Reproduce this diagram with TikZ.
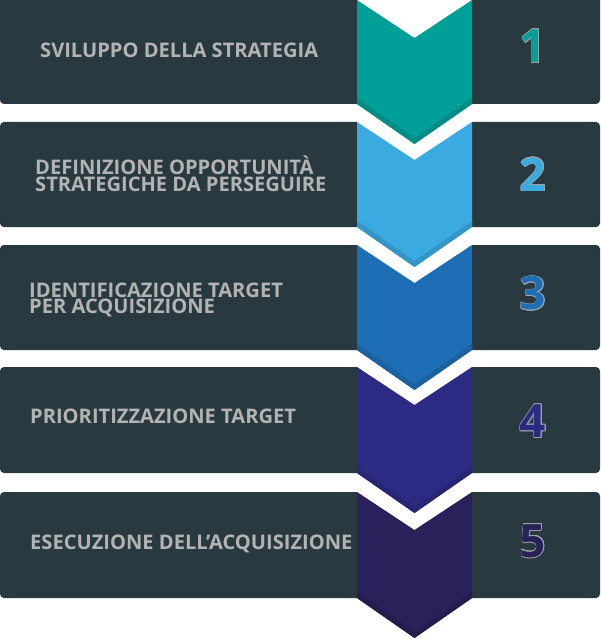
\documentclass[tikz,border=0pt]{standalone}
\usepackage{fontspec}
\setmainfont{Open Sans}
\definecolor{barc}{HTML}{28393F}
\definecolor{textc}{HTML}{B3B3B3}
\definecolor{numedge}{HTML}{9AA4A8}
\definecolor{c1}{HTML}{009F98}
\definecolor{c2}{HTML}{3AAAE1}
\definecolor{c3}{HTML}{1E6EB5}
\definecolor{c4}{HTML}{2D2A83}
\definecolor{c5}{HTML}{28215A}
\begin{document}
\begin{tikzpicture}[x=1pt,y=-1pt,
  steptext/.style={anchor=base west, inner sep=0pt, text=textc, align=left,
    font=\bfseries\fontsize{20.1}{16.3}\selectfont},
  stepnum/.style={inner sep=0pt, font=\bfseries\fontsize{46}{46}\selectfont}]
\useasboundingbox (0,0) rectangle (601,639);
\clip (0,0) rectangle (601,639);
% bars
\foreach \t/\b in {-6/104, 122/227, 245/350, 367/473, 492/598}
\fill[barc, rounded corners=4pt] (0,\t) rectangle (600,\b);
\fill[white] (357,0) rectangle (472,639);
% chevrons
\foreach \t/\b/\c in {0/104/c1, 122/227/c2, 245/350/c3, 367/473/c4, 492/598/c5} {
\fill[\c] (357,\t) -- (414.5,\t+38) -- (472,\t) -- (472,\b) -- (414.5,\b+40) -- (357,\b) -- cycle;
\fill[\c!88!black] (357,\b-6) -- (414.5,\b+34) -- (472,\b-6) -- (472,\b) -- (414.5,\b+40) -- (357,\b) -- cycle;
}
% numbers
\foreach \i/\y/\c in {1/46/c1, 2/174.5/c2, 3/293.5/c3, 4/421/c4, 5/541/c5} {
\foreach \a in {0,30,...,330}
\node[stepnum, text=numedge] at ([shift={(\a:0.8)}]533,\y) {\i};
\node[stepnum, text=\c] (n\i) at (533,\y) {\i};
}
% texts
\node[steptext] (s1) at (40,57.3) {SVILUPPO DELLA STRATEGIA};
\node[steptext] (s2) at (35,191) {DEFINIZIONE OPPORTUNITÀ\\STRATEGICHE DA PERSEGUIRE};
\node[steptext] (s3) at (29,313.3) {IDENTIFICAZIONE TARGET\\PER ACQUISIZIONE};
\node[steptext] (s4) at (30,423.3) {PRIORITIZZAZIONE TARGET};
\node[steptext] (s5) at (30,549.3) {ESECUZIONE DELL’ACQUISIZIONE};
\end{tikzpicture}
\end{document}
